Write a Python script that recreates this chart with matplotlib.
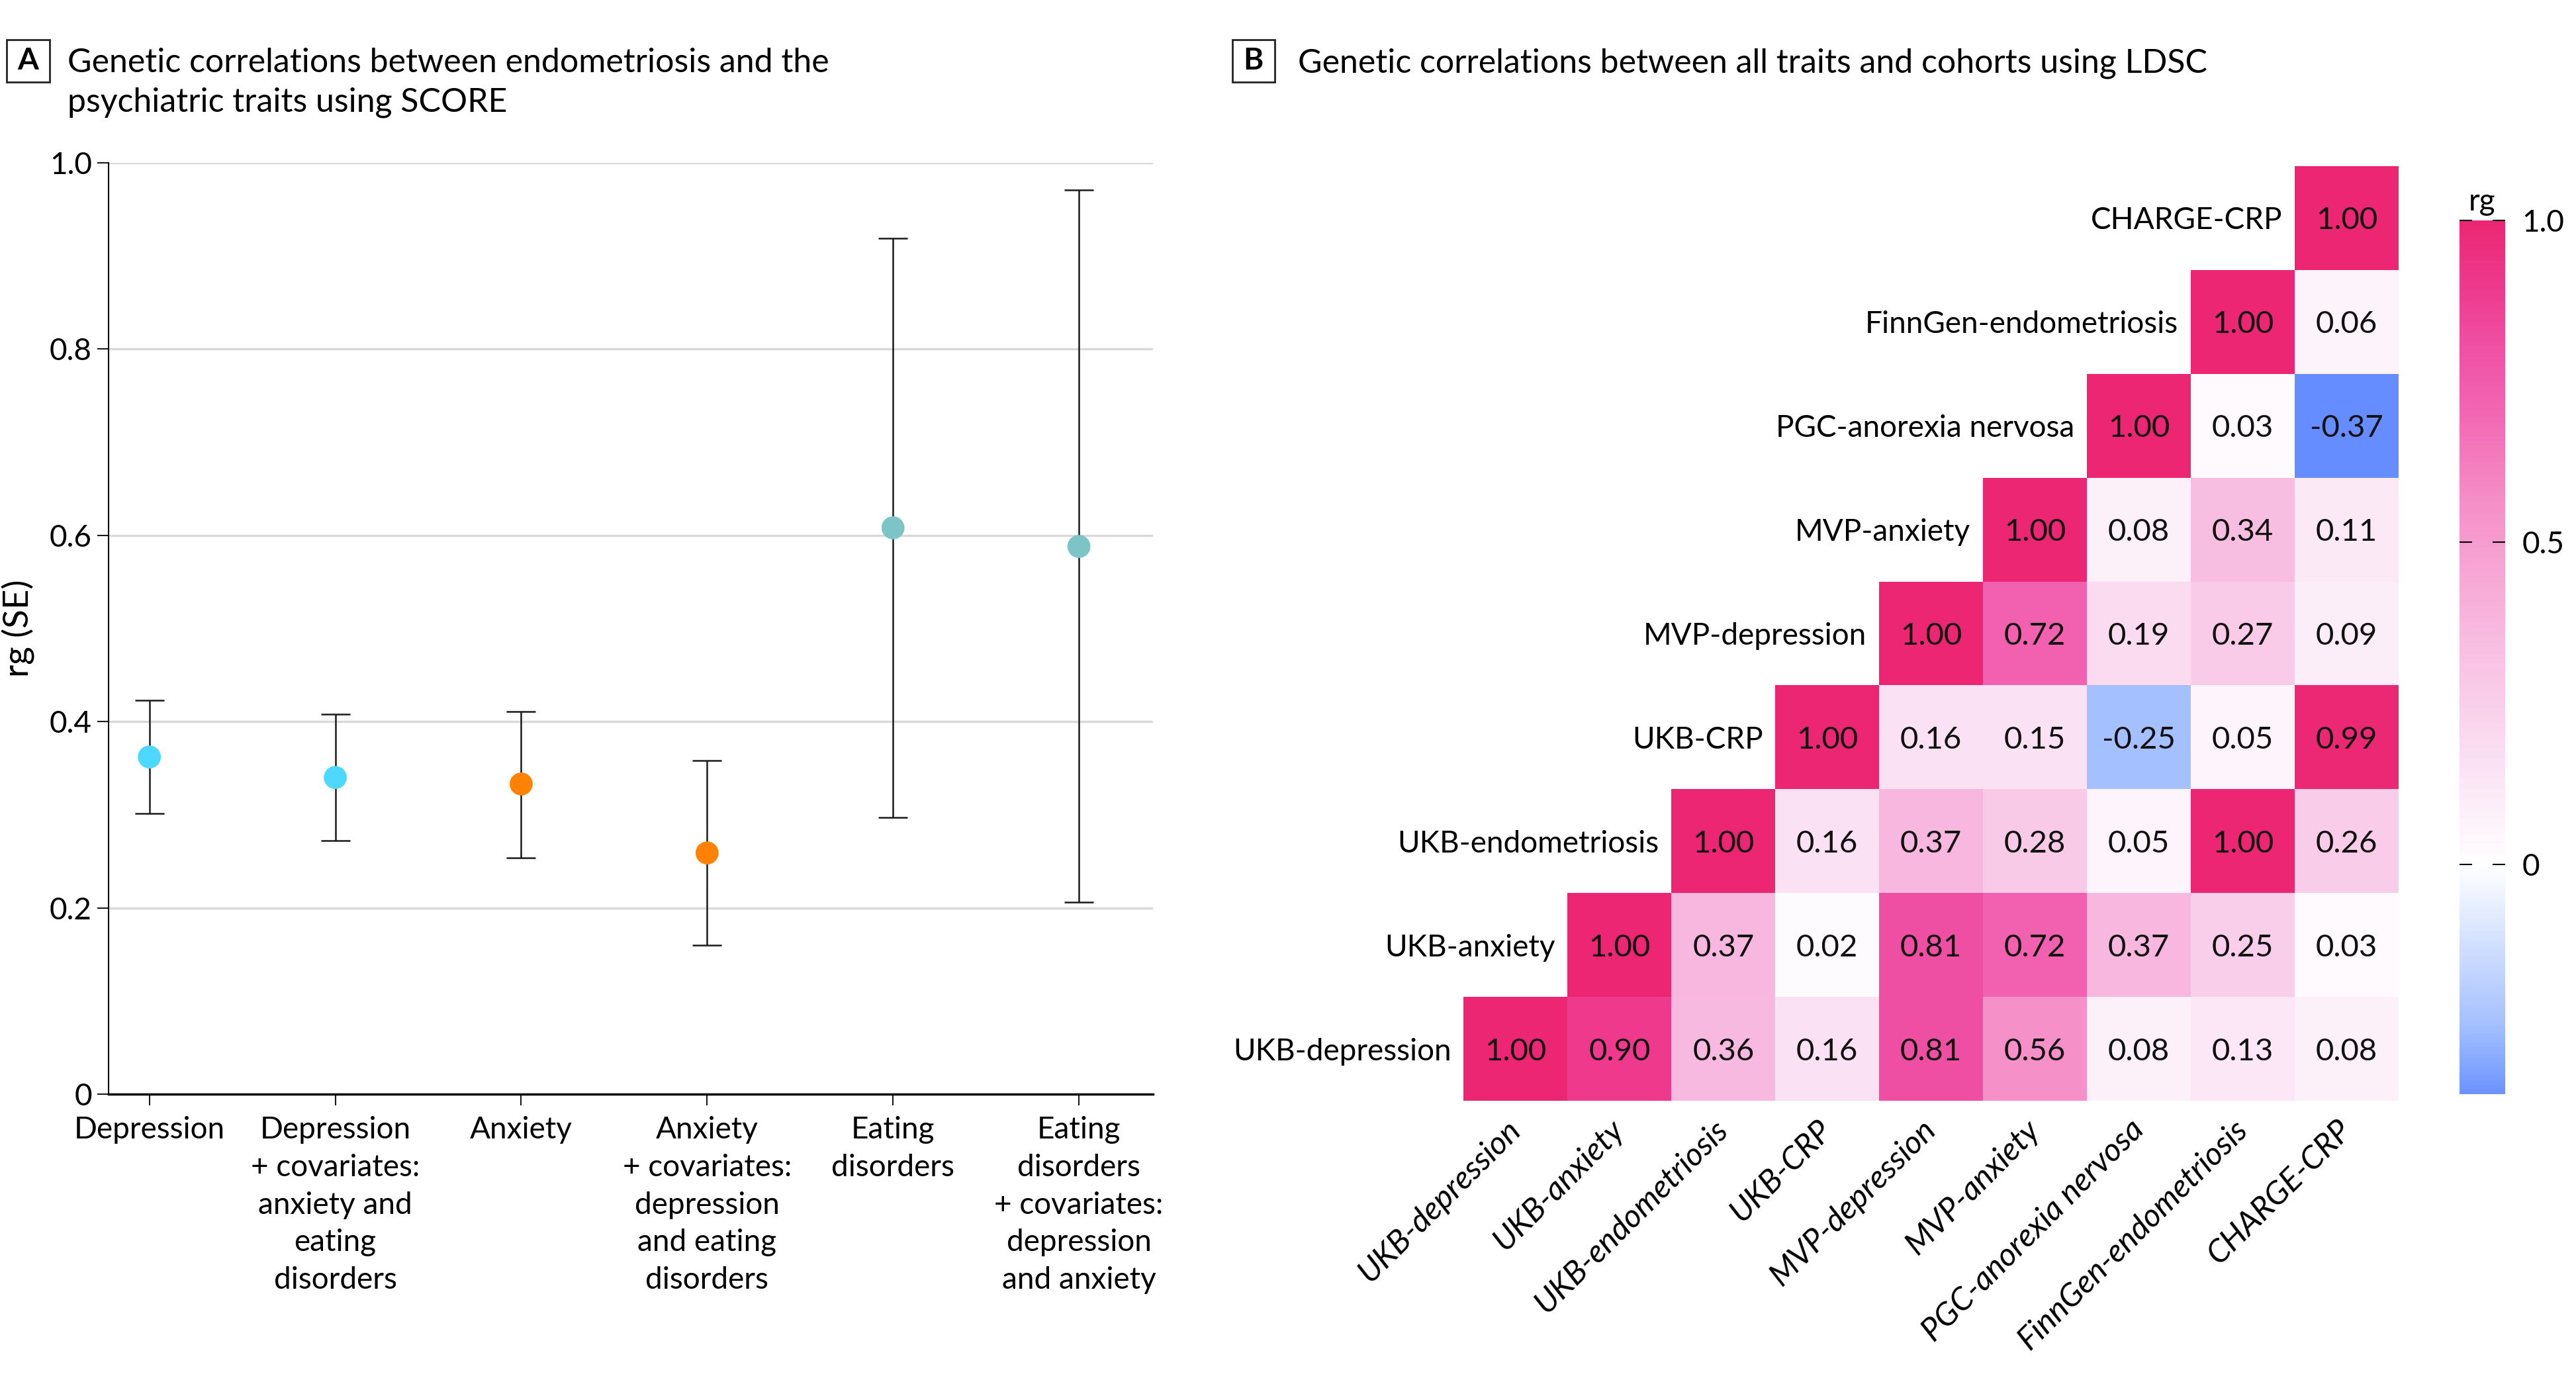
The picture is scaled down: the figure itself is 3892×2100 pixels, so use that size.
import numpy as np
import matplotlib
matplotlib.use("Agg")
from matplotlib import pyplot as plt
from matplotlib.colors import LinearSegmentedColormap, TwoSlopeNorm
from matplotlib.patches import Rectangle
import matplotlib.cm as cm

plt.rcParams['font.family'] = ['Lato', 'DejaVu Sans']

# panel A data (SCORE)
score_labels = ["Depression",
                "Depression\n+ covariates:\nanxiety and\neating\ndisorders",
                "Anxiety",
                "Anxiety\n+ covariates:\ndepression\nand eating\ndisorders",
                "Eating\ndisorders",
                "Eating\ndisorders\n+ covariates:\ndepression\nand anxiety"]
score_rg = [0.362, 0.340, 0.333, 0.259, 0.608, 0.588]
score_lo = [0.301, 0.272, 0.254, 0.160, 0.297, 0.206]
score_hi = [0.423, 0.408, 0.411, 0.358, 0.919, 0.971]
score_colors = ["#4DD9FF", "#4DD9FF", "#FF8204", "#FF8204", "#7DC4C6", "#7DC4C6"]

# panel B data (LDSC), upper triangle row by row
traits = ["UKB-depression", "UKB-anxiety", "UKB-endometriosis", "UKB-CRP",
          "MVP-depression", "MVP-anxiety", "PGC-anorexia nervosa",
          "FinnGen-endometriosis", "CHARGE-CRP"]
rg_rows = [
    [1.00, 0.90, 0.36, 0.16, 0.81, 0.56, 0.08, 0.13, 0.08],
    [1.00, 0.37, 0.02, 0.81, 0.72, 0.37, 0.25, 0.03],
    [1.00, 0.16, 0.37, 0.28, 0.05, 1.00, 0.26],
    [1.00, 0.16, 0.15, -0.25, 0.05, 0.99],
    [1.00, 0.72, 0.19, 0.27, 0.09],
    [1.00, 0.08, 0.34, 0.11],
    [1.00, 0.03, -0.37],
    [1.00, 0.06],
    [1.00],
]

FS = 33

fig = plt.figure(figsize=(38.92, 21), dpi=100)

# ---------- panel A ----------
ax = fig.add_axes([0.0421, 0.2128, 0.4056, 0.6702])
x = np.arange(len(score_rg))
rg = np.array(score_rg)
lo = np.array(score_lo)
hi = np.array(score_hi)
for yv in [0.2, 0.4, 0.6, 0.8, 1.0]:
    ax.axhline(yv, color="#d9d9d9", lw=2.5, zorder=0)
ax.errorbar(x, rg, yerr=[rg - lo, hi - rg], fmt='none', ecolor='#1a1a1a',
            elinewidth=1.8, capsize=16, capthick=1.8, zorder=2)
ax.scatter(x, rg, s=25**2, c=score_colors, zorder=3, linewidths=0)
ax.set_xlim(-0.22, 5.4)
ax.set_ylim(0, 1.0)
ax.set_yticks([0, 0.2, 0.4, 0.6, 0.8, 1.0])
ax.set_yticklabels(["0", "0.2", "0.4", "0.6", "0.8", "1.0"])
ax.set_xticks(x)
ax.set_xticklabels(score_labels, linespacing=1.43, va='top')
ax.tick_params(axis='both', labelsize=FS, length=12, width=1.5, color='#1a1a1a')
ax.tick_params(axis='x', pad=12)
ax.tick_params(axis='y', pad=6)
for s in ['top', 'right']:
    ax.spines[s].set_visible(False)
ax.spines['left'].set_linewidth(1.5)
ax.spines['bottom'].set_linewidth(2.5)
ax.set_ylabel("rg (SE)", fontsize=38, labelpad=16)

# ---------- panel B ----------
n = len(traits)
M = np.full((n, n), np.nan)
for i, row in enumerate(rg_rows):
    for k, v in enumerate(row):
        M[i, i + k] = v

cmap = LinearSegmentedColormap.from_list("rg", [
    (0.0, "#658DFF"), (0.162, "#A4C0FF"), (0.5, "#FFFFFF"),
    (0.58, "#FAE1F3"), (0.685, "#F8B8DF"), (0.78, "#F590C8"),
    (0.86, "#F262B0"), (0.905, "#EE4FA3"), (0.95, "#EE3A8E"), (1.0, "#EC2672")])
norm = TwoSlopeNorm(vmin=-0.37, vcenter=0, vmax=1.0)

axh = fig.add_axes([0.5682, 0.208, 0.3629, 0.6726])
axh.pcolormesh(np.arange(n + 1), np.arange(n + 1), np.ma.masked_invalid(M),
               cmap=cmap, norm=norm)
for i in range(n):
    for j in range(i, n):
        axh.text(j + 0.5, i + 0.5, "%.2f" % M[i, j], ha='center', va='center_baseline',
                 fontsize=34, color='#111111')
    axh.text(i - 0.12, i + 0.5, traits[i], ha='right', va='center_baseline', fontsize=FS)
axh.set_xlim(0, n)
axh.set_ylim(0, n)
axh.set_xticks(np.arange(n) + 0.5)
axh.set_xticklabels(traits, rotation=45, ha='right', va='center',
                    rotation_mode='anchor', fontsize=35, style='italic')
axh.set_yticks([])
axh.tick_params(axis='x', length=0, pad=26)
for s in axh.spines.values():
    s.set_visible(False)

cax = fig.add_axes([0.9547, 0.2128, 0.0179, 0.6288])
sm = cm.ScalarMappable(norm=norm, cmap=cmap)
cb = fig.colorbar(sm, cax=cax)
cb.outline.set_visible(False)
cax.set_yscale('linear')
cax.set_ylim(-0.357, 1.0)
cb.set_ticks([0, 0.5, 1.0])
cb.set_ticklabels(["0", "0.5", "1.0"])
cax.tick_params(direction='in', left=True, right=True, labelleft=False,
                labelright=True, labelsize=FS, length=14, width=1.5, pad=18)
fig.text(0.9636, 0.845, "rg", ha='center', va='bottom', fontsize=FS)

# ---------- panel titles ----------
def panel_box(x0, y0, letter):
    w, h = 0.0166, 0.0307
    fig.patches.append(Rectangle((x0, y0), w, h, transform=fig.transFigure,
                                 fill=False, ec='#222222', lw=2))
    fig.text(x0 + w / 2, y0 + h / 2, letter, ha='center', va='center',
             fontsize=FS, fontweight='bold')

panel_box(0.0026, 0.9409, "A")
fig.text(0.0261, 0.948, "Genetic correlations between endometriosis and the",
         fontsize=36, va='baseline')
fig.text(0.0261, 0.9197, "psychiatric traits using SCORE", fontsize=36, va='baseline')
panel_box(0.4783, 0.9409, "B")
fig.text(0.5038, 0.948, "Genetic correlations between all traits and cohorts using LDSC",
         fontsize=36, va='baseline')

fig.savefig("out.png", dpi=100)
